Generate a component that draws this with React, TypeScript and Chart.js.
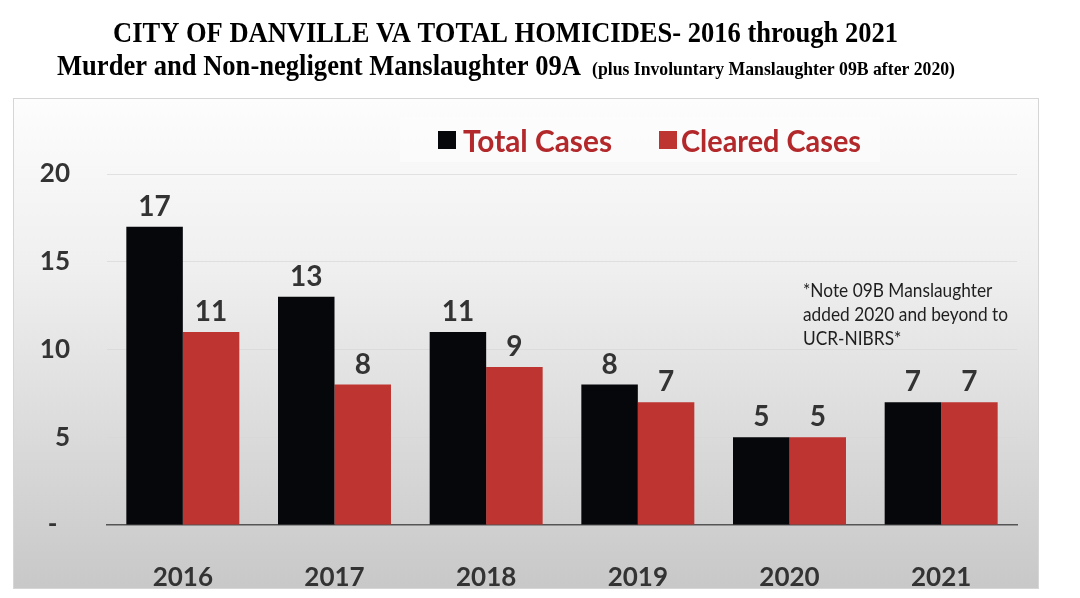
import React, { useEffect, useRef } from "react";
import { Chart, registerables } from "chart.js";

Chart.register(...registerables);

const categories = ["2016", "2017", "2018", "2019", "2020", "2021"];
const totalCases = [17, 13, 11, 8, 5, 7];
const clearedCases = [11, 8, 9, 7, 5, 7];
const seriesNames = ["Total Cases", "Cleared Cases"];
const yTicks = [0, 5, 10, 15, 20];
const titleLine1 = "CITY OF DANVILLE VA TOTAL HOMICIDES- 2016 through 2021";
const titleLine2a = "Murder and Non-negligent Manslaughter 09A";
const titleLine2b = "(plus Involuntary Manslaughter 09B after 2020)";
const noteLines = ["*Note 09B Manslaughter", "added 2020 and beyond to", "UCR-NIBRS*"];

const BLACK = "#06070a";
const RED = "#be3430";
const LEGEND_RED = "#b3282b";
const SANS = "Lato, 'Noto Sans', sans-serif";
const SERIF = "'Liberation Serif', 'DejaVu Serif', serif";

function drawFit(ctx: CanvasRenderingContext2D, text: string, x: number, y: number, font: string, width: number, color: string) {
  ctx.save();
  ctx.font = font;
  ctx.fillStyle = color;
  ctx.textAlign = "left";
  ctx.textBaseline = "alphabetic";
  const w = ctx.measureText(text).width;
  const s = width / w;
  ctx.translate(x, y);
  ctx.scale(s, 1);
  ctx.fillText(text, 0, 0);
  ctx.restore();
}

const backgroundPlugin = {
  id: "bgPanel",
  beforeDraw(chart: any) {
    const ctx: CanvasRenderingContext2D = chart.ctx;
    ctx.save();
    ctx.fillStyle = "#ffffff";
    ctx.fillRect(0, 0, chart.width, chart.height);
    const px = 13, py = 98, pw = 1025, ph = 490;
    const g = ctx.createLinearGradient(0, py, 0, py + ph);
    g.addColorStop(0, "#fdfdfd");
    g.addColorStop(0.35, "#efefef");
    g.addColorStop(1, "#c9c8c8");
    ctx.fillStyle = g;
    ctx.fillRect(px, py, pw, ph);
    ctx.strokeStyle = "#d6d6d6";
    ctx.lineWidth = 1;
    ctx.strokeRect(px + 0.5, py + 0.5, pw, ph);
    // legend box
    ctx.fillStyle = "rgba(255,255,255,0.4)";
    ctx.fillRect(400, 117, 480, 45);
    ctx.restore();
  },
};

const textPlugin = {
  id: "texts",
  afterDraw(chart: any) {
    const ctx: CanvasRenderingContext2D = chart.ctx;
    // titles
    drawFit(ctx, titleLine1, 113, 42, `bold 30px ${SERIF}`, 785, "#000");
    drawFit(ctx, titleLine2a, 57, 75, `bold 30px ${SERIF}`, 524, "#000");
    drawFit(ctx, titleLine2b, 592, 75, `bold 19px ${SERIF}`, 363, "#000");
    // legend
    ctx.save();
    ctx.fillStyle = BLACK;
    ctx.fillRect(438, 131, 18, 18);
    ctx.fillStyle = RED;
    ctx.fillRect(659, 131, 18, 18);
    ctx.restore();
    drawFit(ctx, seriesNames[0], 463, 152, `bold 30px ${SANS}`, 149, LEGEND_RED);
    drawFit(ctx, seriesNames[1], 681, 152, `bold 30px ${SANS}`, 180, LEGEND_RED);
    // note
    ctx.save();
    ctx.font = `19px ${SANS}`;
    const s = 205 / ctx.measureText(noteLines[1]).width;
    ctx.restore();
    noteLines.forEach((line, i) => {
      ctx.save();
      ctx.font = `19px ${SANS}`;
      ctx.fillStyle = "#1e1e1e";
      ctx.translate(803, 297 + i * 24);
      ctx.scale(s, 1);
      ctx.fillText(line, 0, 0);
      ctx.restore();
    });
  },
};

const valueLabelPlugin = {
  id: "valueLabels",
  afterDatasetsDraw(chart: any) {
    const ctx: CanvasRenderingContext2D = chart.ctx;
    ctx.save();
    ctx.font = `bold 28px ${SANS}`;
    ctx.fillStyle = "#333333";
    ctx.textAlign = "center";
    ctx.textBaseline = "alphabetic";
    chart.data.datasets.forEach((ds: any, di: number) => {
      const meta = chart.getDatasetMeta(di);
      meta.data.forEach((bar: any, i: number) => {
        ctx.fillText(String(ds.data[i]), bar.x, bar.y - 11);
      });
    });
    ctx.restore();
  },
};

export default function App() {
  const ref = useRef<HTMLCanvasElement | null>(null);
  useEffect(() => {
    if (!ref.current) return;
    const chart = new Chart(ref.current, {
      type: "bar",
      data: {
        labels: categories,
        datasets: [
          { label: seriesNames[0], data: totalCases, backgroundColor: BLACK, borderWidth: 0, categoryPercentage: 0.745, barPercentage: 1.0 },
          { label: seriesNames[1], data: clearedCases, backgroundColor: RED, borderWidth: 0, categoryPercentage: 0.745, barPercentage: 1.0 },
        ],
      },
      options: {
        animation: false,
        responsive: true,
        maintainAspectRatio: false,
        devicePixelRatio: 1,
        layout: { padding: { left: 0, right: 63, top: 174, bottom: 0 } },
        plugins: { legend: { display: false }, title: { display: false }, tooltip: { enabled: false } },
        scales: {
          x: {
            grid: { display: false },
            border: { display: true, color: "#555555", width: 1.5 },
            ticks: { color: "#333333", font: { family: SANS, size: 26, weight: "bold" }, padding: 29 },
            afterFit: (scale: any) => { scale.height = 73; },
          },
          y: {
            min: 0,
            max: 20,
            afterBuildTicks: (scale: any) => { scale.ticks = yTicks.map((v) => ({ value: v })); },
            grid: {
              drawTicks: false,
              color: (c: any) => (c.tick && c.tick.value === 0 ? "rgba(0,0,0,0)" : "rgba(215,215,215,0.7)"),
              lineWidth: 1,
            },
            border: { display: false },
            ticks: {
              color: "#333333",
              font: { family: SANS, size: 26, weight: "bold" },
              padding: 37,
              callback: (v: any) => (Number(v) === 0 ? "-  " : String(v)),
            },
            afterFit: (scale: any) => { scale.width = 107; },
          },
        },
      },
      plugins: [backgroundPlugin, valueLabelPlugin, textPlugin],
    });
    return () => chart.destroy();
  }, []);
  return (
    <div style={{ position: "fixed", left: 0, top: 0, width: 1080, height: 598 }}>
      <canvas ref={ref} />
    </div>
  );
}
